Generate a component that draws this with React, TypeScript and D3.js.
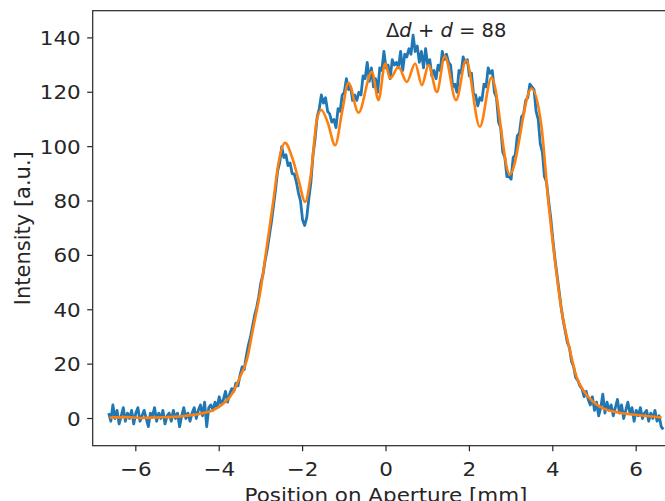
import React from "react";
import * as d3 from "d3";

// Measured intensity (blue), sampled every 0.05 mm from -6.65 mm
const measStart = -6.65;
const measStep = 0.05;
const measured: number[] = [
  2, -1, 5, 0, 3, -2, 1, 4, -1, 2,
  0, 3, -2, 2, 4, -1, 1, 3, 0, -3,
  2, 1, 4, -1, 2, 0, 3, -2, 1, 2,
  -1, 3, 0, 2, -3, 1, 4, 0, 2, -1,
  2, 4, 0, 3, 5, 1, 6, -3, 4, 5,
  3, 6, 4, 8, 5, 7, 10, 6, 9, 11,
  10, 13, 12, 16, 19, 18, 23, 27, 30, 34,
  38, 41, 45, 50, 53, 58, 62, 67, 72, 78,
  84, 91, 94, 100, 96, 97, 93, 94, 90, 90,
  87, 83, 80, 73, 71, 74, 81, 87, 97, 103,
  111, 114, 119, 116, 118, 113, 112, 109, 110, 107,
  114, 113, 119, 120, 125, 121, 122, 117, 119, 117,
  120, 119, 126, 125, 131, 124, 129, 122, 125, 120,
  129, 128, 135, 129, 130, 125, 132, 130, 131, 129,
  135, 128, 134, 133, 136, 134, 141, 135, 137, 131,
  135, 129, 136, 130, 132, 126, 128, 125, 130, 128,
  135, 132, 134, 131, 130, 122, 123, 120, 128, 127,
  133, 131, 132, 126, 127, 119, 119, 115, 118, 117,
  123, 122, 129, 127, 128, 120, 118, 109, 107, 98,
  96, 89, 89, 88, 96, 97, 104, 105, 111, 112,
  117, 118, 123, 122, 121, 113, 110, 101, 98, 89,
  87, 80, 74, 66, 59, 53, 47, 41, 36, 32,
  28, 26, 21, 19, 15, 14, 12, 11, 8, 10,
  7, 5, 8, 3, 6, 1, 4, 9, 2, 6,
  3, 5, 1, 4, 7, 2, 5, 0, 3, 6,
  2, 4, -1, 3, 1, 4, 0, 2, 3, -1,
  2, 0, 3, -1, 1, -3, -4,
];

// Fitted model (orange)
const fitX: number[] = [
  -6.63, -6.2, -5.9, -5.5, -5.1, -4.8, -4.54, -4.3, -4.14, -3.9, -3.66, -3.5, -3.34,
  -3.18, -3.0, -2.86, -2.7, -2.58, -2.42, -2.25, -2.1, -1.94, -1.8, -1.66, -1.55,
  -1.4, -1.22, -1.05, -0.9, -0.66, -0.34, -0.18, -0.02, 0.1, 0.3, 0.5, 0.7, 0.86,
  1.02, 1.22, 1.41, 1.68, 1.92, 2.25, 2.53, 2.97, 3.49, 3.73, 3.89, 4.05, 4.21,
  4.41, 4.57, 4.73, 4.97, 5.21, 5.61, 6.09, 6.61,
];
const fitY: number[] = [
  0.4, 0.5, 0.2, 0.4, 0.6, 1.0, 1.5, 2.3, 3.1, 5.5, 9.8, 15.3, 21.4,
  33.7, 48, 63.1, 80.3, 93.8, 101.4, 96, 88, 79.7, 90, 109.7, 113.5,
  109, 100.5, 113, 123.5, 112.5, 127.5, 117.1, 130.6, 125.1, 129.3, 123.8, 130.6, 122.6,
  130, 120.1, 133.3, 117.1, 131.8, 107.3, 125.4, 89.8, 121.4, 107.3, 80.3, 58.2, 39.8,
  25.1, 15.3, 10.4, 6.1, 3.7, 2.1, 1.2, 0.4,
];

const xTicks = [-6, -4, -2, 0, 2, 4, 6];
const yTicks = [0, 20, 40, 60, 80, 100, 120, 140];
const xLabel = "Position on Aperture [mm]";
const yLabel = "Intensity [a.u.]";

const W = 665;
const H = 501;
const left = 92.7;
const top = 10.7;
const bottom = 445.7;
const right = 679.3;

export default function App() {
  const x = d3.scaleLinear().domain([-7.034, 7.034]).range([left, right]);
  const y = d3.scaleLinear().domain([-10, 150]).range([bottom, top]);

  const measPts: [number, number][] = measured.map((v, i) => [measStart + i * measStep, v]);
  const fitPts: [number, number][] = fitX.map((v, i) => [v, fitY[i]]);

  const lineRaw = d3
    .line<[number, number]>()
    .x((d) => x(d[0]))
    .y((d) => y(d[1]));
  const lineFit = d3
    .line<[number, number]>()
    .x((d) => x(d[0]))
    .y((d) => y(d[1]))
    .curve(d3.curveMonotoneX);

  const font = "DejaVu Sans";
  const fs = 19.5;
  const sx = 1.1;
  const tickColor = "#262626";

  return (
    <svg
      width={W}
      height={H}
      style={{ position: "absolute", left: 0, top: 0, background: "#fff" }}
      fontFamily={font}
    >
      <rect x={0} y={0} width={W} height={H} fill="#fff" />
      <defs>
        <clipPath id="plotclip">
          <rect x={left} y={top} width={right - left} height={bottom - top} />
        </clipPath>
      </defs>
      <g clipPath="url(#plotclip)">
        <path d={lineRaw(measPts) || ""} fill="none" stroke="#1f77b4" strokeWidth={2.8} strokeLinejoin="round" />
        <path d={lineFit(fitPts) || ""} fill="none" stroke="#ff7f0e" strokeWidth={2.6} strokeLinejoin="round" />
      </g>
      <rect x={left} y={top} width={right - left} height={bottom - top} fill="none" stroke="#262626" strokeWidth={1.2} />
      {yTicks.map((t) => (
        <g key={"y" + t}>
          <line x1={left - 5.5} x2={left} y1={y(t)} y2={y(t)} stroke={tickColor} strokeWidth={1.2} />
          <text
            transform={`translate(${left - 12}, ${y(t)}) scale(${sx}, 1)`}
            dy="0.36em"
            textAnchor="end"
            fontSize={fs}
            fill={tickColor}
          >
            {t}
          </text>
        </g>
      ))}
      {xTicks.map((t) => (
        <g key={"x" + t}>
          <line x1={x(t)} x2={x(t)} y1={bottom} y2={bottom + 5.5} stroke={tickColor} strokeWidth={1.2} />
          <text
            transform={`translate(${x(t)}, ${bottom + 30}) scale(${sx}, 1)`}
            textAnchor="middle"
            fontSize={fs}
            fill={tickColor}
          >
            {t < 0 ? "\u2212" + Math.abs(t) : t}
          </text>
        </g>
      ))}
      <text transform={`translate(${x(0)}, ${y(140.4)})`} fontSize={fs} fill={tickColor}>
        <tspan>Δ</tspan>
        <tspan fontStyle="italic">d</tspan>
        <tspan> + </tspan>
        <tspan fontStyle="italic">d</tspan>
        <tspan> = 88</tspan>
      </text>
      <text
        transform={`translate(386, ${H + 1}) scale(${sx}, 1)`}
        textAnchor="middle"
        fontSize={fs}
        fill={tickColor}
      >
        {xLabel}
      </text>
      <text
        transform={`translate(29.5, ${(top + bottom) / 2}) rotate(-90)`}
        textAnchor="middle"
        fontSize={21}
        fill={tickColor}
      >
        {yLabel}
      </text>
    </svg>
  );
}
